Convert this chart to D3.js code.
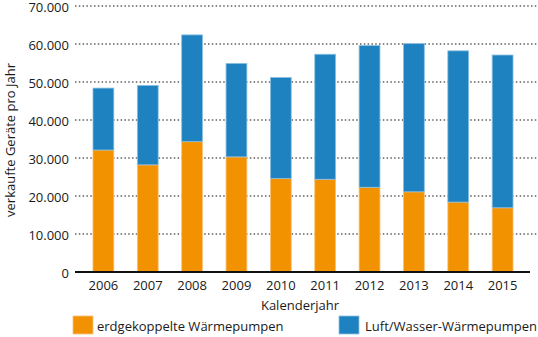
<!DOCTYPE html>
<html><head><meta charset="utf-8">
<script src="https://cdn.jsdelivr.net/npm/d3@7"></script>
<style>body{margin:0;background:#fff}svg{display:block}text{font-family:"Open Sans",sans-serif;fill:#1a1a1a}</style>
</head><body>
<script>
const years = ["2006","2007","2008","2009","2010","2011","2012","2013","2014","2015"];
const erdgekoppelt = [32100, 28200, 34300, 30300, 24600, 24400, 22300, 21100, 18400, 16900];
const luftWasser = [16300, 20900, 28100, 24600, 26600, 32900, 37300, 39000, 39800, 40200];
const yTicks = [0, 10000, 20000, 30000, 40000, 50000, 60000, 70000];
const seriesNames = ["erdgekoppelte Wärmepumpen", "Luft/Wasser-Wärmepumpen"];
const colors = ["#F39200", "#1F82C0"];

const W = 538, H = 337;
const svg = d3.select("body").append("svg").attr("width", W).attr("height", H);
const x = d3.scaleBand().domain(years).range([81, 525]).paddingInner(0.53).paddingOuter(0.27);
const y = d3.scaleLinear().domain([0, 70000]).range([272, 6]);
const fmt = v => d3.format(",")(v).replace(/,/g, ".");

// grid
svg.append("g").selectAll("line").data(yTicks.filter(d => d > 0)).join("line")
  .attr("x1", 75).attr("x2", 538).attr("y1", d => y(d)).attr("y2", d => y(d))
  .attr("stroke", "#111").attr("stroke-width", 1.2).attr("stroke-dasharray", "1.5,2.3");

// y labels
svg.append("g").selectAll("text").data(yTicks).join("text")
  .attr("x", 69).attr("y", d => y(d) + 1).attr("dy", "0.35em").attr("text-anchor", "end")
  .attr("font-size", 13).text(fmt);

const data = years.map((yr, i) => ({ year: yr, a: erdgekoppelt[i], b: luftWasser[i] }));
const stack = d3.stack().keys(["a", "b"])(data);
svg.append("g").selectAll("g").data(stack).join("g")
  .attr("fill", (d, i) => colors[i])
  .attr("stroke", (d, i) => i === 0 ? "#F8C27A" : "#8EC0E0").attr("stroke-width", 0.8)
  .selectAll("rect").data(d => d).join("rect")
  .attr("x", d => x(d.data.year)).attr("width", x.bandwidth())
  .attr("y", d => y(d[1])).attr("height", d => y(d[0]) - y(d[1]));

// baseline
svg.append("line").attr("x1", 75).attr("x2", 530).attr("y1", 272).attr("y2", 272)
  .attr("stroke", "#111").attr("stroke-width", 2);

// x labels
svg.append("g").selectAll("text").data(years).join("text")
  .attr("x", d => x(d) + x.bandwidth() / 2).attr("y", 285.5).attr("dy", "0.35em")
  .attr("text-anchor", "middle").attr("font-size", 13).text(d => d);

svg.append("text").attr("x", 300).attr("y", 305).attr("dy", "0.35em").attr("text-anchor", "middle")
  .attr("font-size", 13).text("Kalenderjahr");

svg.append("text").attr("transform", "translate(10,140) rotate(-90)").attr("dy", "0.35em")
  .attr("text-anchor", "middle").attr("font-size", 13).text("verkaufte Geräte pro Jahr");

// legend
const leg = [{ x: 73, tx: 97 }, { x: 339, tx: 365 }];
seriesNames.forEach((n, i) => {
  svg.append("rect").attr("x", leg[i].x).attr("y", 316).attr("width", 20).attr("height", 18)
    .attr("fill", colors[i]).attr("stroke", i === 0 ? "#F8C27A" : "#8EC0E0").attr("stroke-width", 0.8);
  svg.append("text").attr("x", leg[i].tx).attr("y", 326).attr("dy", "0.35em")
    .attr("font-size", 13).text(n);
});
</script>
</body></html>
